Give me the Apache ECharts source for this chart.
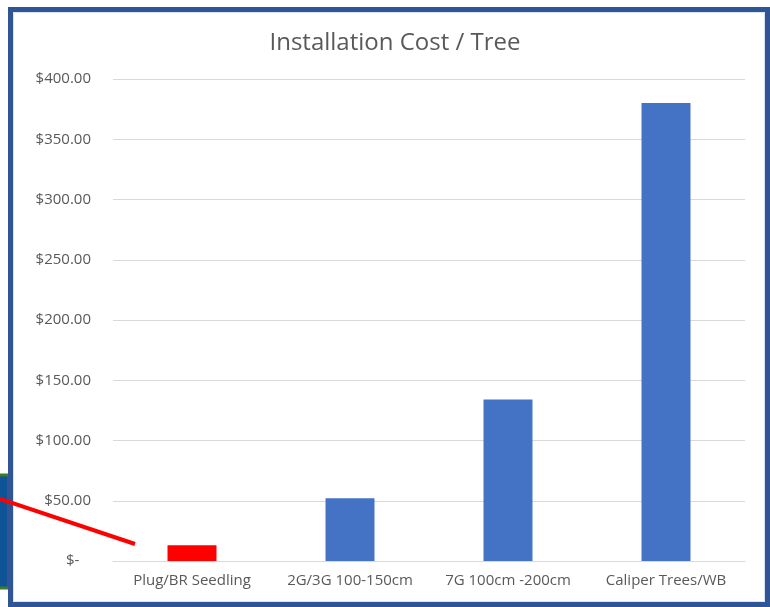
<!DOCTYPE html>
<html>
<head>
<meta charset="utf-8">
<script src="https://cdn.jsdelivr.net/npm/echarts@6/dist/echarts.min.js"></script>
<style>
html,body{margin:0;padding:0;background:#fff;}
#chart{width:770px;height:607px;}
</style>
</head>
<body>
<div id="chart"></div>
<script>
const titleText = 'Installation Cost / Tree';
const categories = ['Plug/BR Seedling', '2G/3G 100-150cm', '7G 100cm -200cm', 'Caliper Trees/WB'];
const costs = [13, 52, 134, 380];
const barColors = ['#FF0000', '#4472C4', '#4472C4', '#4472C4'];

const chart = echarts.init(document.getElementById('chart'), null, {renderer: 'canvas'});
const font = '"Open Sans", Lato, sans-serif';
chart.setOption({
  animation: false,
  backgroundColor: '#ffffff',
  title: {
    text: titleText,
    left: 390, top: 26, textAlign: 'center',
    textStyle: {fontFamily: font, fontSize: 24, fontWeight: 'normal', color: '#595959'}
  },
  grid: {left: 113, right: 25, top: 79, bottom: 46, containLabel: false},
  xAxis: {
    type: 'category',
    data: categories,
    axisLine: {lineStyle: {color: '#d9d9d9', width: 1}},
    axisTick: {show: false},
    axisLabel: {fontFamily: font, fontSize: 15, color: '#595959', margin: 12, interval: 0}
  },
  yAxis: {
    type: 'value',
    min: 0, max: 400, interval: 50,
    axisLine: {show: false},
    axisTick: {show: false},
    splitLine: {lineStyle: {color: '#d9d9d9', width: 1}},
    axisLabel: {
      fontFamily: font, fontSize: 15, color: '#595959', margin: 22,
      formatter: v => v === 0 ? '$-   ' : '$' + v.toFixed(2)
    }
  },
  series: [{
    type: 'bar',
    data: costs.map((v, i) => ({value: v, itemStyle: {color: barColors[i]}})),
    barWidth: '31%'
  }],
  graphic: [
    {type: 'rect', shape: {x: -2, y: 475, width: 11, height: 113}, style: {fill: '#0F5296', stroke: '#3E7B27', lineWidth: 3}, z: 1},
    {type: 'rect', shape: {x: 10.5, y: 9.5, width: 757, height: 595}, style: {fill: 'none', stroke: '#2F5597', lineWidth: 5}, z: 2},
    {type: 'rect', shape: {x: 13.5, y: 12.5, width: 751, height: 589}, style: {fill: 'none', stroke: '#DAE3F3', lineWidth: 1}, z: 2},
    {type: 'line', shape: {x1: 0, y1: 499, x2: 135, y2: 544}, style: {stroke: '#FF0000', lineWidth: 4}, z: 3}
  ]
});
</script>
</body>
</html>
